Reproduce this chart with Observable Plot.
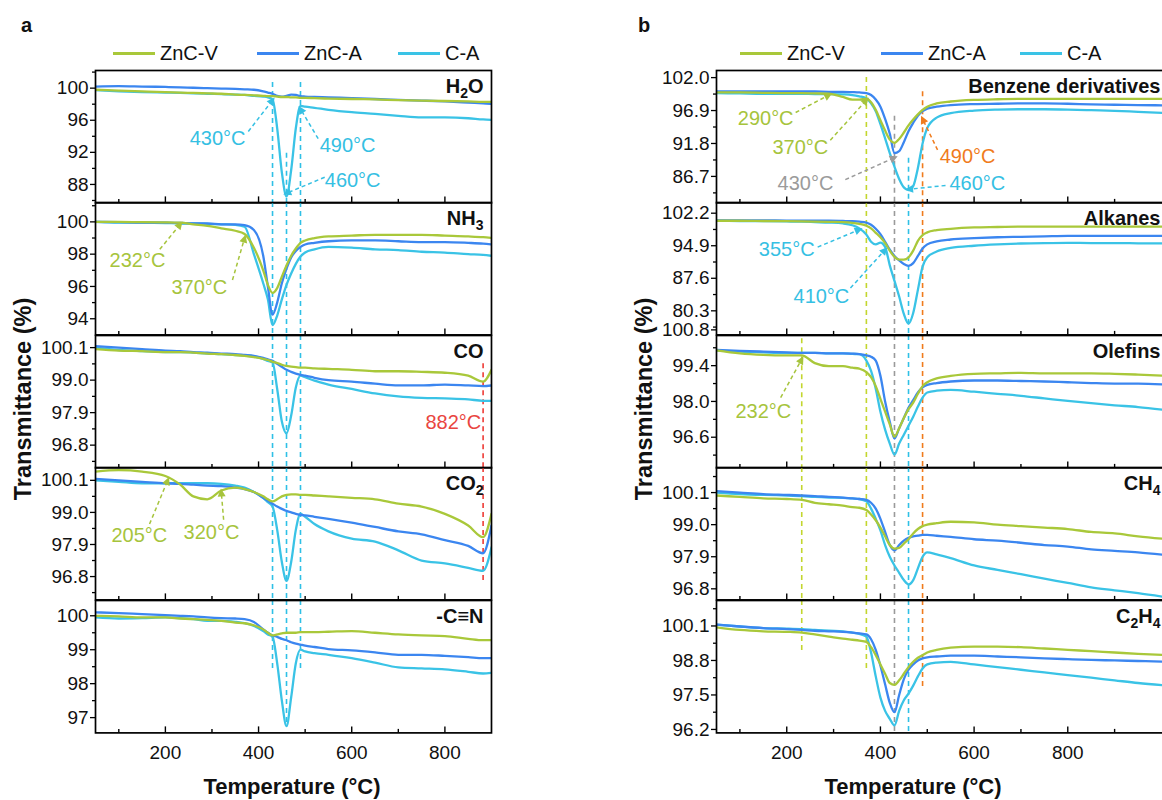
<!DOCTYPE html>
<html lang="en">
<head>
<meta charset="utf-8">
<title>Evolved gas transmittance vs temperature</title>
<script src="https://cdn.jsdelivr.net/npm/d3@7"></script>
<script src="https://cdn.jsdelivr.net/npm/@observablehq/plot@0.6"></script>
<style>
  html, body { margin: 0; padding: 0; background: #fff; overflow: hidden; }
  #page { position: relative; width: 1162px; height: 800px; overflow: hidden; background: #fff;
          font-family: "Liberation Sans", Arial, Helvetica, sans-serif; color: #111; }
  .cell { position: absolute; left: 0; }
  .tag { position: absolute; font-weight: bold; font-size: 20px; line-height: 20px; }
  .swatch { position: absolute; height: 3px; }
  .legend-text { position: absolute; font-size: 20px; line-height: 20px; white-space: nowrap; }
  .title { position: absolute; font-weight: bold; font-size: 22px; line-height: 22px; white-space: nowrap; }
  .title.vertical { font-size: 23.5px; line-height: 24px; }
</style>
</head>
<body>
<div id="page"></div>
<script>
// ---------- temperature grids (°C) ----------
const TEMP_A = [50,100,150,200,232,260,290,320,350,370,390,410,420,430,440,450,460,470,480,490,500,520,550,600,650,700,750,800,850,882,900];
const TEMP_B = [50,100,150,200,232,260,290,320,340,355,370,380,390,400,410,420,430,440,450,460,470,480,490,500,520,550,600,650,700,750,800,850,900,950,1015];

// ---------- panel a: transmittance (%) ----------
const H2O_ZNCV = [99.8,99.7,99.6,99.5,99.45,99.4,99.35,99.3,99.2,99.15,99.1,99.05,99.0,99.0,98.95,98.9,98.9,98.85,98.85,98.8,98.8,98.75,98.7,98.65,98.6,98.5,98.45,98.4,98.35,98.3,98.3];
const H2O_ZNCA = [100.2,100.25,100.2,100.15,100.1,100.05,100.0,99.95,99.9,99.85,99.8,99.6,99.45,99.3,99.05,98.95,99.05,99.2,99.15,99.0,98.95,98.9,98.85,98.75,98.65,98.55,98.45,98.35,98.2,98.1,98.05];
const H2O_CA   = [99.75,99.6,99.5,99.45,99.4,99.35,99.3,99.25,99.2,99.15,99.05,98.95,98.85,98.6,95.0,89.5,86.5,89.8,95.0,97.8,97.7,97.55,97.3,97.0,96.8,96.55,96.35,96.35,96.25,96.1,96.05];

const NH3_ZNCV = [100.0,100.0,99.98,99.97,99.95,99.85,99.75,99.6,99.45,99.25,98.4,97.0,96.1,95.6,95.9,96.6,97.3,97.9,98.35,98.7,98.85,99.0,99.1,99.15,99.2,99.2,99.2,99.15,99.1,99.05,99.0];
const NH3_ZNCA = [100.0,99.98,99.95,99.95,99.93,99.9,99.9,99.85,99.85,99.8,99.5,97.9,96.0,94.25,95.0,96.2,97.1,97.8,98.2,98.45,98.6,98.7,98.8,98.85,98.85,98.8,98.75,98.75,98.7,98.65,98.6];
const NH3_CA   = [100.0,99.95,99.95,99.93,99.9,99.9,99.88,99.85,99.82,99.7,98.0,96.2,95.2,93.6,94.2,95.2,96.1,96.8,97.4,97.85,98.1,98.3,98.45,98.4,98.3,98.25,98.15,98.1,98.0,97.95,97.9];

const CO_ZNCV = [100.05,100.0,99.98,99.95,99.95,99.93,99.9,99.88,99.85,99.82,99.78,99.72,99.68,99.62,99.58,99.52,99.48,99.46,99.44,99.42,99.42,99.4,99.38,99.35,99.3,99.3,99.28,99.25,99.15,98.95,99.35];
const CO_ZNCA = [100.15,100.1,100.05,100.0,99.98,99.95,99.93,99.9,99.88,99.85,99.82,99.75,99.7,99.65,99.55,99.45,99.35,99.28,99.22,99.18,99.15,99.08,99.0,98.95,98.88,98.82,98.82,98.85,98.82,98.8,98.82];
const CO_CA   = [100.1,100.02,99.98,99.95,99.95,99.93,99.9,99.88,99.85,99.83,99.8,99.72,99.65,99.6,98.7,97.6,97.2,97.8,98.75,99.15,99.1,98.98,98.85,98.7,98.55,98.45,98.4,98.38,98.35,98.3,98.3];

const CO2_ZNCV = [100.4,100.45,100.4,100.25,99.95,99.55,99.45,99.75,99.85,99.8,99.7,99.55,99.45,99.38,99.45,99.55,99.6,99.62,99.62,99.6,99.6,99.58,99.55,99.5,99.45,99.3,99.2,98.95,98.55,98.15,98.95];
const CO2_ZNCA = [100.15,100.1,100.05,100.0,99.98,99.95,99.92,99.9,99.85,99.8,99.7,99.5,99.4,99.3,99.2,99.12,99.05,99.0,98.95,98.92,98.9,98.85,98.78,98.65,98.5,98.35,98.25,98.05,97.85,97.6,98.55];
const CO2_CA   = [100.1,100.05,100.0,100.0,100.0,100.0,100.0,99.98,99.92,99.85,99.7,99.5,99.35,99.2,98.4,97.3,96.65,97.3,98.4,98.95,98.85,98.6,98.35,98.1,98.0,97.7,97.35,97.25,97.1,97.0,97.8];

const CN_ZNCV = [100.0,99.98,99.95,99.95,99.92,99.9,99.88,99.85,99.8,99.78,99.72,99.6,99.5,99.42,99.45,99.48,99.5,99.5,99.5,99.52,99.52,99.52,99.53,99.55,99.5,99.45,99.42,99.4,99.32,99.28,99.28];
const CN_ZNCA = [100.1,100.08,100.05,100.02,100.0,99.98,99.95,99.93,99.92,99.9,99.82,99.6,99.5,99.42,99.38,99.32,99.28,99.22,99.18,99.15,99.12,99.08,99.02,98.98,98.92,98.85,98.85,98.82,98.78,98.75,98.75];
const CN_CA   = [99.95,99.92,99.93,99.95,99.93,99.9,99.85,99.85,99.82,99.78,99.7,99.55,99.45,99.38,98.6,97.5,96.75,97.6,98.6,99.0,98.95,98.9,98.85,98.75,98.62,98.48,98.45,98.42,98.35,98.3,98.32];

// ---------- panel b: transmittance (%) ----------
const BZ_ZNCV = [99.7,99.7,99.65,99.6,99.6,99.55,99.5,99.0,98.6,98.6,98.75,98.2,97.0,95.4,93.8,92.4,91.9,92.5,93.5,94.6,95.5,96.3,97.0,97.5,98.0,98.3,98.55,98.65,98.7,98.7,98.7,98.7,98.7,98.7,98.7];
const BZ_ZNCA = [99.85,99.85,99.85,99.85,99.85,99.85,99.8,99.8,99.75,99.7,99.6,99.3,98.6,97.5,95.6,93.3,90.3,90.6,92.0,93.7,95.0,96.1,96.8,97.2,97.5,97.75,97.9,97.95,98.0,98.0,97.95,97.85,97.8,97.75,97.7];
const BZ_CA   = [99.6,99.55,99.5,99.5,99.5,99.45,99.45,99.4,99.3,99.1,98.8,98.0,96.8,94.8,92.6,90.3,88.2,86.3,85.0,84.6,85.2,88.0,91.8,94.2,95.8,96.5,96.9,97.05,97.1,97.1,97.05,96.95,96.85,96.7,96.5];

const AK_ZNCV = [100.5,100.5,100.45,100.4,100.35,100.3,100.25,100.2,100.05,99.8,99.4,98.8,97.8,96.8,95.5,93.8,92.4,91.8,91.8,92.3,93.8,96.0,97.3,97.9,98.4,98.7,99.0,99.1,99.2,99.2,99.2,99.2,99.2,99.2,99.2];
const AK_ZNCA = [100.6,100.6,100.6,100.55,100.55,100.5,100.5,100.45,100.4,100.3,100.1,99.6,98.7,97.5,95.8,94.0,92.6,91.6,90.8,90.4,91.0,92.6,94.3,95.2,95.9,96.3,96.6,96.8,96.9,97.0,97.1,97.1,97.1,97.1,97.1];
const AK_CA   = [100.5,100.45,100.4,100.35,100.3,100.2,100.1,99.9,99.5,98.8,97.4,95.8,95.2,95.6,94.6,90.5,87.0,83.5,79.6,77.4,79.8,85.0,90.2,92.3,93.6,94.4,94.9,95.2,95.4,95.5,95.55,95.5,95.5,95.45,95.4];

const OL_ZNCV = [100.0,99.88,99.82,99.8,99.8,99.5,99.38,99.38,99.32,99.28,99.15,98.95,98.6,98.1,97.6,97.1,96.62,96.95,97.35,97.7,97.95,98.3,98.6,98.75,98.9,99.0,99.08,99.1,99.12,99.1,99.1,99.1,99.08,99.05,99.0];
const OL_ZNCA = [100.02,99.98,99.95,99.92,99.9,99.9,99.88,99.88,99.87,99.85,99.8,99.75,99.6,99.0,98.0,97.2,96.55,96.95,97.35,97.75,98.05,98.35,98.55,98.65,98.72,98.78,98.82,98.82,98.8,98.78,98.75,98.72,98.7,98.7,98.65];
const OL_CA   = [100.0,99.95,99.92,99.9,99.9,99.9,99.88,99.88,99.86,99.85,99.6,99.2,98.5,97.6,96.9,96.35,95.92,96.35,96.7,97.05,97.4,97.8,98.15,98.35,98.42,98.45,98.38,98.3,98.22,98.12,98.02,97.93,97.85,97.78,97.65];

const CH4_ZNCV = [100.0,99.95,99.9,99.88,99.85,99.75,99.7,99.65,99.6,99.58,99.5,99.35,99.15,98.9,98.6,98.3,98.18,98.2,98.35,98.5,98.7,98.85,98.95,99.0,99.05,99.1,99.08,99.0,98.95,98.9,98.85,98.75,98.7,98.6,98.5];
const CH4_ZNCA = [100.15,100.1,100.05,100.02,100.0,99.98,99.95,99.93,99.9,99.88,99.85,99.75,99.55,99.2,98.75,98.3,98.12,98.3,98.45,98.55,98.6,98.62,98.65,98.65,98.62,98.58,98.5,98.45,98.38,98.3,98.25,98.15,98.1,98.05,97.95];
const CH4_CA   = [100.1,100.05,100.02,100.0,99.98,99.95,99.93,99.92,99.9,99.88,99.8,99.55,99.2,98.8,98.3,97.9,97.6,97.35,97.1,96.95,97.1,97.5,97.9,98.05,97.98,97.85,97.6,97.45,97.3,97.15,97.0,96.85,96.75,96.65,96.5];

const C2H4_ZNCV = [100.05,99.95,99.9,99.88,99.85,99.78,99.7,99.62,99.58,99.55,99.5,99.3,99.0,98.65,98.3,97.95,97.88,98.05,98.3,98.55,98.75,98.9,99.0,99.1,99.2,99.28,99.32,99.32,99.3,99.25,99.2,99.15,99.1,99.05,99.0];
const C2H4_ZNCA = [100.15,100.08,100.02,99.98,99.95,99.92,99.9,99.88,99.85,99.82,99.78,99.6,99.2,98.6,97.9,97.2,96.85,97.5,98.1,98.45,98.65,98.8,98.88,98.92,98.95,98.98,98.98,98.95,98.92,98.88,98.85,98.82,98.8,98.78,98.75];
const C2H4_CA   = [100.15,100.08,100.02,100.0,99.98,99.95,99.92,99.9,99.85,99.8,99.7,99.1,98.2,97.4,96.9,96.6,96.35,96.9,97.3,97.55,97.85,98.2,98.5,98.65,98.72,98.75,98.65,98.55,98.45,98.35,98.25,98.15,98.05,97.95,97.85];

// ---------- tick values ----------
const TICKS_H2O = [88, 92, 96, 100];
const TICKS_NH3 = [94, 96, 98, 100];
const TICKS_CO  = [96.8, 97.9, 99.0, 100.1];
const TICKS_CO2 = [96.8, 97.9, 99.0, 100.1];
const TICKS_CN  = [97, 98, 99, 100];
const TICKS_BZ  = [86.7, 91.8, 96.9, 102.0];
const TICKS_AK  = [80.3, 87.6, 94.9, 102.2];
const TICKS_OL  = [96.6, 98.0, 99.4, 100.8];
const TICKS_CH4 = [96.8, 97.9, 99.0, 100.1];
const TICKS_C2H4 = [96.2, 97.5, 98.8, 100.1];
const X_MAJOR = [200, 400, 600, 800];
const X_MINOR = [100, 300, 500, 700, 900];

// ---------- marked event temperatures (°C) ----------
const EVENTS_A = [430, 460, 490, 882];
const EVENTS_B = [232, 370, 430, 460, 490];

const SERIES_NAMES = ["ZnC-V", "ZnC-A", "C-A"];
const COLOR = {"ZnC-V": "#a9c83a", "ZnC-A": "#3b86f0", "C-A": "#3ac3e6"};
const TXT = {lime: "#a6c43c", cyan: "#35c0e3", gray: "#9b9b9b", orange: "#f07b1c", red: "#e9453f"};
const DASH = {lime: "#c3d62e", cyan: "#2fc0e6", gray: "#9a9a9a", orange: "#f07b1c", red: "#ee3b36"};
const FONT = '"Liberation Sans", Arial, Helvetica, sans-serif';
const SUBSCRIPTED = ["H2O", "NH3", "CO2", "CH4", "C2H4"];

// ---------- layout ----------
const ROW_TOPS = [70, 202.4, 334.8, 467.2, 599.6];
const ROW_H = 132.4;
const PAD_TOP = 30, PAD_BOTTOM = 30, PAD_BOTTOM_LAST = 50;

const PANEL_A = {
  temps: TEMP_A, xDomain: [50, 900], width: 500, marginLeft: 95, marginRight: 9,
  guides: [
    {t: EVENTS_A[0], color: DASH.cyan, from: [0, 100.7], to: [4, 98.35]},
    {t: EVENTS_A[1], color: DASH.cyan, from: [0, 91.9], to: [4, 96.8]},
    {t: EVENTS_A[2], color: DASH.cyan, from: [0, 100.7], to: [4, 98.35]},
    {t: EVENTS_A[3], color: DASH.red, from: [2, 99.55], to: [3, 96.55]}
  ],
  rows: [
    {label: "H2O", domain: [85.7, 102.2], ticks: TICKS_H2O, fmt: "d",
     series: {"ZnC-V": H2O_ZNCV, "ZnC-A": H2O_ZNCA, "C-A": H2O_CA},
     notes: [
       {t: 430, color: TXT.cyan, at: [312, 93.7], from: [378, 94.6], y: 98.5},
       {t: 490, color: TXT.cyan, at: [591, 92.9], from: [528, 93.7], y: 97.4},
       {t: 460, color: TXT.cyan, at: [602, 88.5], from: [542, 88.9], y: 86.9}
     ]},
    {label: "NH3", domain: [93.0, 101.2], ticks: TICKS_NH3, fmt: "d",
     series: {"ZnC-V": NH3_ZNCV, "ZnC-A": NH3_ZNCA, "C-A": NH3_CA},
     notes: [
       {t: 232, color: TXT.lime, at: [140, 97.6], from: [188, 98.3], y: 99.85},
       {t: 370, color: TXT.lime, at: [273, 95.9], from: [344, 96.4], y: 99.0}
     ]},
    {label: "CO", domain: [96.03, 100.51], ticks: TICKS_CO, fmt: ".1f",
     series: {"ZnC-V": CO_ZNCV, "ZnC-A": CO_ZNCA, "C-A": CO_CA},
     notes: [
       {t: 882, color: TXT.red, at: [818, 97.55]}
     ]},
    {label: "CO2", domain: [96.0, 100.54], ticks: TICKS_CO2, fmt: ".1f",
     series: {"ZnC-V": CO2_ZNCV, "ZnC-A": CO2_ZNCA, "C-A": CO2_CA},
     notes: [
       {t: 205, color: TXT.lime, at: [144, 98.2], from: [166, 98.6], y: 100.1},
       {t: 320, color: TXT.lime, at: [299, 98.3], from: [325, 98.75], y: 99.7}
     ]},
    {label: "-C\u2261N", domain: [96.55, 100.45], ticks: TICKS_CN, fmt: "d",
     series: {"ZnC-V": CN_ZNCV, "ZnC-A": CN_ZNCA, "C-A": CN_CA},
     notes: []}
  ]
};

const PANEL_B = {
  temps: TEMP_B, xDomain: [50, 1015], width: 1185, marginLeft: 716, marginRight: 17,
  guides: [
    {t: EVENTS_B[0], color: DASH.lime, from: [2, 100.45], to: [4, 99.05]},
    {t: EVENTS_B[1], color: DASH.lime, from: [0, 102.0], to: [4, 98.45]},
    {t: EVENTS_B[2], color: DASH.gray, from: [0, 96.0], to: [4, null]},
    {t: EVENTS_B[3], color: DASH.cyan, from: [0, 89.5], to: [4, null]},
    {t: EVENTS_B[4], color: DASH.orange, from: [0, 99.8], to: [4, 97.7]}
  ],
  rows: [
    {label: "Benzene derivatives", domain: [82.6, 103.1], ticks: TICKS_BZ, fmt: ".1f",
     series: {"ZnC-V": BZ_ZNCV, "ZnC-A": BZ_ZNCA, "C-A": BZ_CA},
     notes: [
       {t: 290, color: TXT.lime, at: [155, 95.7], from: [219, 96.6], y: 99.3},
       {t: 370, color: TXT.lime, at: [229, 91.1], from: [293, 92.3], y: 98.5},
       {t: 430, color: TXT.gray, at: [240, 85.6], from: [325, 86.2], y: 89.6},
       {t: 490, color: TXT.orange, at: [586, 89.7], from: [522, 90.8], y: 95.6},
       {t: 460, color: TXT.cyan, at: [607, 85.6], from: [539, 85.3], y: 84.7}
     ]},
    {label: "Alkanes", domain: [74.9, 104.6], ticks: TICKS_AK, fmt: ".1f",
     series: {"ZnC-V": AK_ZNCV, "ZnC-A": AK_ZNCA, "C-A": AK_CA},
     notes: [
       {t: 355, color: TXT.cyan, at: [200, 94.1], from: [266, 94.6], y: 98.5},
       {t: 410, color: TXT.cyan, at: [274, 83.5], from: [336, 85.4], y: 94.0}
     ]},
    {label: "Olefins", domain: [95.4, 100.58], ticks: TICKS_OL, fmt: ".1f",
     series: {"ZnC-V": OL_ZNCV, "ZnC-A": OL_ZNCA, "C-A": OL_CA},
     notes: [
       {t: 232, color: TXT.lime, at: [150, 97.6], from: [187, 98.15], y: 99.65}
     ]},
    {label: "CH4", domain: [96.42, 100.96], ticks: TICKS_CH4, fmt: ".1f",
     series: {"ZnC-V": CH4_ZNCV, "ZnC-A": CH4_ZNCA, "C-A": CH4_CA},
     notes: []},
    {label: "C2H4", domain: [96.07, 101.06], ticks: TICKS_C2H4, fmt: ".1f",
     series: {"ZnC-V": C2H4_ZNCV, "ZnC-A": C2H4_ZNCA, "C-A": C2H4_CA},
     notes: []}
  ]
};

const page = document.getElementById("page");

// Chemical formulas get lowered, smaller digits.
function setSubscripts(svg) {
  d3.select(svg).selectAll("text").each(function () {
    const s = this.textContent;
    if (!SUBSCRIPTED.includes(s)) return;
    const el = d3.select(this);
    el.text(null);
    let low = false;
    for (const part of s.match(/\d+|\D+/g)) {
      const digit = /\d/.test(part);
      const ts = el.append("tspan").text(part);
      if (digit) { ts.attr("font-size", "14px").attr("dy", "5px"); low = true; }
      else if (low) { ts.attr("dy", "-5px"); low = false; }
    }
  });
}

// Arrow markers drawn as solid triangles.
function fillMarkers(svg) {
  d3.select(svg).selectAll("marker").each(function () {
    const m = d3.select(this);
    const c = m.attr("stroke");
    m.attr("fill", c).attr("stroke", "none");
    m.select("path").attr("d", "M-4.5,-4L3.5,0L-4.5,4Z");
  });
}

function drawRow(panel, row, i) {
  const last = i === ROW_TOPS.length - 1;
  const padB = last ? PAD_BOTTOM_LAST : PAD_BOTTOM;
  const [lo, hi] = row.domain;
  const fmt = d3.format(row.fmt);
  const step = row.ticks[1] - row.ticks[0];
  const minor = row.ticks.map(t => t - step / 2)
    .concat([row.ticks[row.ticks.length - 1] + step / 2])
    .filter(t => t > lo && t < hi);

  const marks = [];

  // dashed event guides running through the stacked rows
  for (const g of panel.guides) {
    if (i < g.from[0] || i > g.to[0]) continue;
    const seg = {t: g.t, y1: i === g.from[0] ? g.from[1] : hi,
                 y2: (i === g.to[0] && g.to[1] != null) ? g.to[1] : lo};
    marks.push(Plot.ruleX([seg], {x: "t", y1: "y1", y2: "y2", stroke: g.color,
      strokeWidth: 1.6, strokeDasharray: "5,4"}));
  }

  // the three measured curves
  for (const name of ["C-A", "ZnC-A", "ZnC-V"]) {
    const values = row.series[name];
    marks.push(Plot.line(panel.temps, {x: d => d, y: (d, j) => values[j],
      stroke: COLOR[name], strokeWidth: 2.3, curve: "monotone-x", clip: true}));
  }

  // annotations
  for (const n of row.notes) {
    if (n.from) {
      marks.push(Plot.link([n], {x1: d => d.from[0], y1: d => d.from[1], x2: d => d.t, y2: d => d.y,
        stroke: n.color, strokeWidth: 1.5, strokeDasharray: "4,3", markerEnd: "arrow"}));
    }
    marks.push(Plot.text([n], {x: d => d.at[0], y: d => d.at[1], text: d => `${d.t}°C`,
      fill: n.color, fontSize: 20}));
  }

  // axes and frame
  marks.push(Plot.axisY(row.ticks, {anchor: "left", tickSize: 5, tickPadding: 2, tickFormat: fmt,
    fontSize: 19, label: null, stroke: "#000", fill: "#111", strokeWidth: 1.3}));
  marks.push(Plot.axisY(minor, {anchor: "left", tickSize: 3, fill: "none", label: null,
    stroke: "#000", strokeWidth: 1.3}));
  marks.push(Plot.ruleX(X_MAJOR, {stroke: "#000", strokeWidth: 1.4, insetTop: ROW_H - 6}));
  marks.push(Plot.ruleX(X_MINOR.filter(t => t < panel.xDomain[1]),
    {stroke: "#000", strokeWidth: 1.4, insetTop: ROW_H - 3.5}));
  if (last) {
    marks.push(Plot.axisX(X_MAJOR, {anchor: "bottom", tickSize: 0, tickPadding: 13,
      fontSize: 19, label: null, fill: "#111"}));
  }
  marks.push(Plot.frame({stroke: "#000", strokeWidth: 1.7}));
  marks.push(Plot.text([row.label], {text: d => d, frameAnchor: "top-right", dx: -8, dy: 8,
    fontSize: 20, fontWeight: "bold", fill: "#111"}));

  const svg = Plot.plot({
    width: panel.width,
    height: ROW_H + PAD_TOP + padB,
    marginLeft: panel.marginLeft, marginRight: panel.marginRight,
    marginTop: PAD_TOP, marginBottom: padB,
    x: {domain: panel.xDomain, axis: null},
    y: {domain: row.domain, axis: null},
    style: {background: "transparent", overflow: "visible", maxWidth: "none",
            fontFamily: FONT, fontSize: "19px", color: "#111"},
    marks
  });
  setSubscripts(svg);
  fillMarkers(svg);

  const cell = document.createElement("div");
  cell.className = "cell";
  cell.style.top = (ROW_TOPS[i] - PAD_TOP) + "px";
  cell.style.width = panel.width + "px";
  cell.appendChild(svg);
  page.appendChild(cell);
}

PANEL_A.rows.forEach((row, i) => drawRow(PANEL_A, row, i));
PANEL_B.rows.forEach((row, i) => drawRow(PANEL_B, row, i));

// ---------- panel tags, legends and axis titles ----------
const pageSel = d3.select(page);
function tag(text, left, top) {
  pageSel.append("div").attr("class", "tag").style("left", left + "px").style("top", top + "px").text(text);
}
tag("a", 21, 15);
tag("b", 638, 15);

function legend(starts) {
  SERIES_NAMES.forEach((name, k) => {
    const x = starts[k];
    pageSel.append("div").attr("class", "swatch")
      .style("left", x + "px").style("top", "51.5px").style("width", "42px")
      .style("background", COLOR[name]);
    pageSel.append("div").attr("class", "legend-text")
      .style("left", (x + 47) + "px").style("top", "43px").text(name);
  });
}
legend([113, 257, 398]);
legend([740, 881, 1020]);

function title(text, cx, cy, rotate) {
  pageSel.append("div").attr("class", rotate ? "title vertical" : "title")
    .style("left", cx + "px").style("top", cy + "px")
    .style("transform", `translate(-50%, -50%)${rotate ? " rotate(-90deg)" : ""}`)
    .text(text);
}
title("Transmittance (%)", 23, 399, true);
title("Transmittance (%)", 644, 399, true);
title("Temperature (°C)", 292, 787, false);
title("Temperature (°C)", 913, 787, false);
</script>
</body>
</html>
